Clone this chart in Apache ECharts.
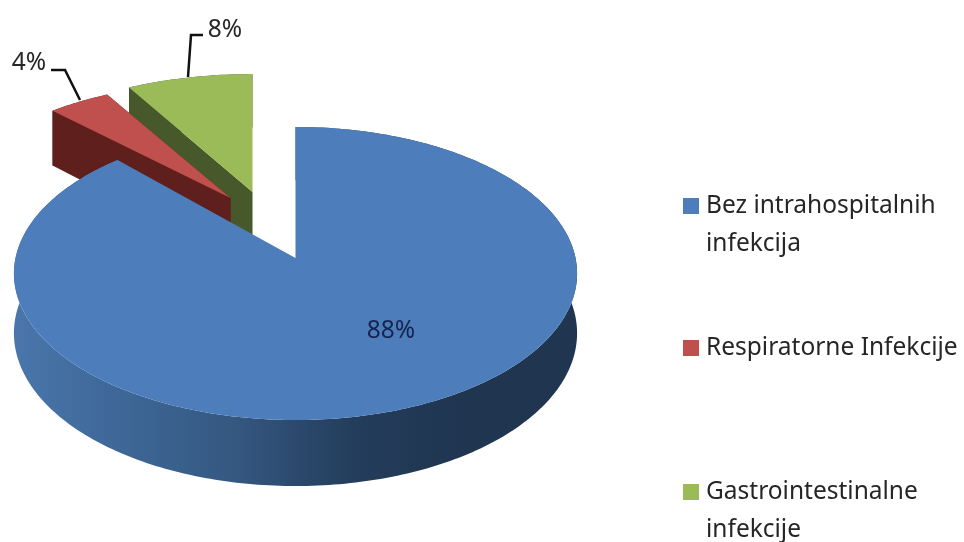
<!DOCTYPE html>
<html>
<head>
<meta charset="utf-8">
<style>html,body{margin:0;padding:0;background:#fff}#c{width:964px;height:542px}canvas{filter:blur(0.5px)}</style>
<script src="https://cdn.jsdelivr.net/npm/echarts@6/dist/echarts.min.js"></script>
</head>
<body>
<div id="c"></div>
<script>
const categories = ['Bez intrahospitalnih infekcija', 'Respiratorne Infekcije', 'Gastrointestinalne infekcije'];
const legendLabels = ['Bez intrahospitalnih\ninfekcija', 'Respiratorne Infekcije', 'Gastrointestinalne\ninfekcije'];
const values = [88, 4, 8];
const faceColors = ['#4d7ebb', '#c0504d', '#9bbb59'];
const wallColors = [null, '#5e1f1d', '#47582a'];

const FONT = '"Noto Sans"';
const LEGEND_SIZE = 24.5;
const total = values.reduce((a, b) => a + b, 0);
const CX = 295.5, CY = 258, RX = 280, RY = 144.9, K = 0.1058, DEPTH = 59;
// screen offset and depth foreshortening of each pulled-out slice
const layout = [
  {ox: 0, oy: 0, fy: 1},
  {ox: -65, oy: -60, fy: 0.89},
  {ox: -43, oy: -66, fy: 0.9}
];
// percent label placement, leader polyline
const labelSpots = [
  {x: 391, y: 331, color: '#14244f'},
  {x: 29, y: 63, color: '#262626', leader: [[80, 100], [65, 70], [51, 70]]},
  {x: 225, y: 30, color: '#262626', leader: [[188, 77], [191, 35], [203, 35]]}
];

function project(i, deg, radius, drop) {
  const a = deg * Math.PI / 180, u = Math.sin(a) * radius, v = Math.cos(a) * radius;
  const s = 1 / (1 + K * v), L = layout[i];
  return [CX + L.ox + RX * u * s, CY + L.oy - RY * v * s * L.fy + (drop ? DEPTH * s : 0)];
}
function arc(i, from, to, drop) {
  const pts = [], n = Math.max(2, Math.ceil(to - from));
  for (let j = 0; j <= n; j++) pts.push(project(i, from + (to - from) * j / n, 1, drop));
  return pts;
}
function makeRender(i) {
  const from = values.slice(0, i).reduce((a, b) => a + b, 0) / total * 360;
  const to = from + values[i] / total * 360;
  return function () {
    const top = arc(i, from, to, false), bottom = arc(i, from, to, true);
    const tip = project(i, 0, 0, false), tipLow = project(i, 0, 0, true);
    const wallFill = i === 0 ? new echarts.graphic.LinearGradient(0, 0, 1, 0, [
      {offset: 0, color: '#4a76ac'}, {offset: 0.15, color: '#406a9b'},
      {offset: 0.4, color: '#345780'}, {offset: 0.6, color: '#243d5c'},
      {offset: 0.8, color: '#1f3550'}, {offset: 1, color: '#1f3550'}
    ]) : wallColors[i];
    const children = [];
    children.push({type: 'polygon', shape: {points: top.concat(bottom.slice().reverse())}, style: {fill: wallFill}});
    if (i > 0) {
      children.push({type: 'polygon', shape: {points: [tip, top[0], bottom[0], tipLow]}, style: {fill: wallFill}});
      children.push({type: 'polygon', shape: {points: [tip, top[top.length - 1], bottom[bottom.length - 1], tipLow]}, style: {fill: wallFill}});
    }
    children.push({type: 'polygon', shape: {points: [tip].concat(top)}, style: {fill: faceColors[i]}});
    const spot = labelSpots[i];
    if (spot.leader) {
      children.push({type: 'polyline', shape: {points: spot.leader}, style: {fill: null, stroke: '#111', lineWidth: 2.5}});
    }
    children.push({type: 'text', style: {x: spot.x, y: spot.y, text: values[i] + '%', fill: spot.color,
      font: LEGEND_SIZE + 'px ' + FONT, align: 'center', verticalAlign: 'middle'}});
    return {type: 'group', children: children};
  };
}
const drawOrder = [2, 1, 0];
const legendTops = [187, 329, 473];
const blockIcon = 'path://M0 11L16 11L16 27L0 27ZM0 0L0 0ZM0 76L0 76Z';
const chart = echarts.init(document.getElementById('c'));
chart.setOption({
  animation: false,
  backgroundColor: '#fff',
  legend: categories.map((name, i) => {
    const two = legendLabels[i].includes('\n');
    return {
      data: [name], left: 683, top: legendTops[i], orient: 'vertical', padding: 0,
      selectedMode: false, itemGap: 0, itemWidth: 16, itemHeight: two ? 76 : 16,
      icon: two ? blockIcon : 'rect',
      formatter: () => legendLabels[i],
      textStyle: {fontFamily: FONT, fontSize: LEGEND_SIZE, lineHeight: 38, color: '#262626', padding: [0, 0, 0, 2]}
    };
  }),
  series: drawOrder.map(i => ({
    type: 'custom', name: categories[i], coordinateSystem: 'none', silent: true,
    itemStyle: {color: faceColors[i]}, data: [values[i]], renderItem: makeRender(i)
  }))
});
</script>
</body>
</html>
